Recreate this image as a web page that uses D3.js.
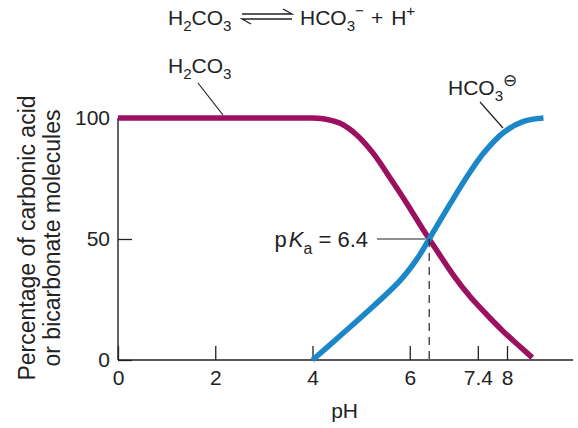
<!DOCTYPE html>
<html>
<head>
<meta charset="utf-8">
<script src="https://cdn.jsdelivr.net/npm/d3@7"></script>
<style>
  html, body { margin: 0; padding: 0; background: #fff; }
  svg { display: block; font-family: "Liberation Sans", Arial, Helvetica, sans-serif; }
</style>
</head>
<body>
<svg id="chart" width="578" height="428"></svg>
<script>
// ---- data ----
const xTicks = [0, 2, 4, 6, 7.4, 8];
const xTickLabels = ["0", "2", "4", "6", "7.4", "8"];
const yTicks = [0, 50, 100];
const yTickLabels = ["0", "50", "100"];

const h2co3PH  = [0, 1, 2, 3, 3.7, 4.0, 4.3, 4.57, 4.91, 5.25, 5.6, 5.94, 6.28, 6.4, 6.9, 7.24, 7.59, 7.93, 8.27, 8.52];
const h2co3Pct = [100, 100, 100, 100, 100, 100, 99.4, 97.8, 93, 85.4, 75.1, 64.7, 53.7, 50, 35, 26.2, 18.6, 11.7, 5.5, 1];

const hco3PH  = [4.0, 4.57, 5.25, 5.8, 6.15, 6.4, 6.83, 7.17, 7.52, 7.93, 8.34, 8.75];
const hco3Pct = [0, 10, 22.2, 32.8, 41.8, 50, 64.5, 75.5, 85.5, 94, 98.6, 100];

const pKa = 6.4;
const xAxisMax = 9.36;

const pink = "#9b1060";
const blue = "#1b86c8";

// ---- scales ----
const svg = d3.select("#chart");
const x = d3.scaleLinear().domain([0, 8]).range([118, 507]);
const y = d3.scaleLinear().domain([0, 100]).range([360, 118]);

// text with sub/superscripts
function rich(parent, xPos, yPos, parts, size, anchor) {
  const t = parent.append("text").attr("x", xPos).attr("y", yPos)
    .attr("text-anchor", anchor || "start").attr("fill", "#222").attr("font-size", size);
  let cur = 0;
  parts.forEach(([txt, kind, style, dx, fsz]) => {
    let target = 0, fs = size;
    if (kind === "sub") { target = size * 0.3; fs = size * 0.72; }
    if (kind === "sup") { target = -size * 0.42; fs = size * 0.72; }
    if (fsz) fs = fsz;
    const s = t.append("tspan").text(txt).attr("font-size", fs).attr("dy", target - cur);
    if (dx) s.attr("dx", dx);
    if (style === "italic") s.attr("font-style", "italic");
    cur = target;
  });
  return t;
}

// ---- axes ----
const xAxis = d3.axisBottom(x).tickValues(xTicks)
  .tickFormat((d, i) => xTickLabels[i]).tickSizeInner(-14).tickSizeOuter(0).tickPadding(10);
const gx = svg.append("g").attr("transform", "translate(0,360)").call(xAxis);
gx.select(".domain").remove();
gx.selectAll(".tick line").attr("stroke", "#222").attr("stroke-width", 1.3);
gx.selectAll(".tick text").attr("font-size", 21).attr("fill", "#222")
  .attr("font-family", "Liberation Sans, Arial, sans-serif");

const yAxis = d3.axisLeft(y).tickValues(yTicks)
  .tickFormat((d, i) => yTickLabels[i]).tickSizeInner(-14).tickSizeOuter(0).tickPadding(8);
const gy = svg.append("g").attr("transform", "translate(118,0)").call(yAxis);
gy.select(".domain").remove();
gy.selectAll(".tick line").attr("stroke", "#222").attr("stroke-width", 1.3);
gy.selectAll(".tick text").attr("font-size", 21).attr("fill", "#222")
  .attr("font-family", "Liberation Sans, Arial, sans-serif");

// axis lines
svg.append("line").attr("x1", x(0)).attr("x2", x(xAxisMax)).attr("y1", y(0)).attr("y2", y(0))
  .attr("stroke", "#222").attr("stroke-width", 1.4);
svg.append("line").attr("x1", x(0)).attr("x2", x(0)).attr("y1", y(0)).attr("y2", y(100))
  .attr("stroke", "#222").attr("stroke-width", 1.4);

// ---- curves ----
const line = d3.line().x(d => x(d[0])).y(d => y(d[1])).curve(d3.curveCatmullRom.alpha(0.5));
svg.append("path").datum(h2co3PH.map((v, i) => [v, h2co3Pct[i]]))
  .attr("d", line).attr("fill", "none").attr("stroke", pink).attr("stroke-width", 5.5);
svg.append("path").datum(hco3PH.map((v, i) => [v, hco3Pct[i]]))
  .attr("d", line).attr("fill", "none").attr("stroke", blue).attr("stroke-width", 5.5);

// pKa dashed line
svg.append("line").attr("x1", x(pKa)).attr("x2", x(pKa)).attr("y1", y(50)).attr("y2", y(0))
  .attr("stroke", "#222").attr("stroke-width", 1.2).attr("stroke-dasharray", "8,6");

// ---- annotations ----
const fs = 21;
// title equation
rich(svg, 168, 25, [["H"], ["2", "sub"], ["CO"], ["3", "sub"]], fs);
const arrow = svg.append("g").attr("stroke", "#222").attr("stroke-width", 1.3).attr("fill", "none");
arrow.append("path").attr("d", "M242,14 H292 L283,9");
arrow.append("path").attr("d", "M292,19 H242 L251,24");
rich(svg, 300, 25, [["HCO"], ["3", "sub"], ["\u2212", "sup"], ["+", null, null, 7], ["H", null, null, 8], ["+", "sup"]], fs);

// H2CO3 label
rich(svg, 168, 73, [["H"], ["2", "sub"], ["CO"], ["3", "sub"]], fs);
svg.append("line").attr("x1", 198).attr("y1", 83).attr("x2", 223).attr("y2", 115)
  .attr("stroke", "#222").attr("stroke-width", 1.2);

// HCO3- label
rich(svg, 448, 95, [["HCO"], ["3", "sub"], ["\u2296", "sup", null, 0, 17]], fs);
svg.append("line").attr("x1", 480).attr("y1", 102).attr("x2", 503).attr("y2", 128)
  .attr("stroke", "#222").attr("stroke-width", 1.2);

// pKa label
rich(svg, 368, 247, [["p"], ["K", null, "italic", 2], ["a", "sub"], [" = 6.4"]], 22, "end");
svg.append("line").attr("x1", 377).attr("y1", y(50)).attr("x2", x(pKa) - 4).attr("y2", y(50))
  .attr("stroke", "#222").attr("stroke-width", 1.2);

// axis titles
svg.append("text").attr("x", (x(0) + x(xAxisMax)) / 2 - 1).attr("y", 418)
  .attr("text-anchor", "middle").attr("font-size", 21).attr("fill", "#222").text("pH");
const yl = svg.append("text").attr("transform", "translate(35,238) rotate(-90)")
  .attr("text-anchor", "middle").attr("font-size", 23).attr("fill", "#222");
yl.append("tspan").attr("x", 0).attr("y", 0).text("Percentage of carbonic acid");
yl.append("tspan").attr("x", 0).attr("y", 25).text("or bicarbonate molecules");
</script>
</body>
</html>
